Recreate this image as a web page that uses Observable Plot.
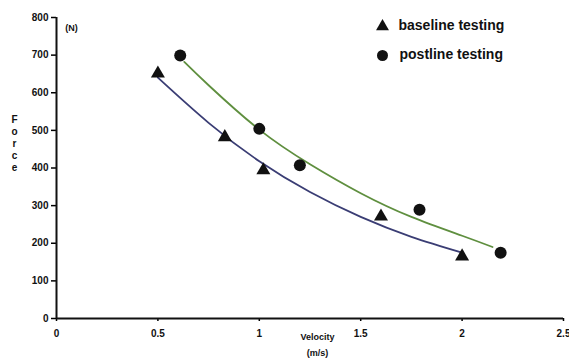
<!DOCTYPE html>
<html>
<head>
<meta charset="utf-8">
<script src="https://cdn.jsdelivr.net/npm/d3@7"></script>
<script src="https://cdn.jsdelivr.net/npm/@observablehq/plot@0.6"></script>
<style>
  html, body { margin: 0; padding: 0; background: #fff; }
  #chart { width: 569px; height: 358px; }
  svg { font-family: "Liberation Sans", Arial, sans-serif; }
</style>
</head>
<body>
<div id="chart"></div>
<script>
// Measured points
const baselineVelocity = [0.5, 0.83, 1.02, 1.6, 2.0];
const baselineForce = [651, 482, 394, 271, 165];
const postlineVelocity = [0.61, 1.0, 1.2, 1.79, 2.19];
const postlineForce = [699, 504, 407, 289, 175];

// Trend curves
const baselineFitVelocity = [0.5, 0.75, 1.0, 1.25, 1.5, 1.75, 2.0];
const baselineFitForce = [640, 520, 418, 336, 270, 217, 175];
const postlineFitVelocity = [0.63, 0.75, 1.0, 1.25, 1.5, 1.75, 2.0, 2.15];
const postlineFitForce = [682, 620, 502, 410, 333, 270, 220, 190];

const xTicks = [0, 0.5, 1, 1.5, 2, 2.5];
const xTickLabels = ["0", "0.5", "1", "1.5", "2", "2.5"];
const yTicks = [0, 100, 200, 300, 400, 500, 600, 700, 800];

const seriesNames = ["baseline testing", "postline testing"];

const zip = (xs, ys) => xs.map((x, i) => ({x, y: ys[i]}));
const basePts = zip(baselineVelocity, baselineForce);
const postPts = zip(postlineVelocity, postlineForce);
const baseFit = zip(baselineFitVelocity, baselineFitForce);
const postFit = zip(postlineFitVelocity, postlineFitForce);

const chart = Plot.plot({
  width: 569,
  height: 358,
  marginLeft: 56,
  marginRight: 6,
  marginTop: 17,
  marginBottom: 40,
  style: {fontFamily: "'Liberation Sans', Arial, sans-serif", background: "#fff", overflow: "visible"},
  x: {domain: [0, 2.5]},
  y: {domain: [0, 800]},
  marks: [
    Plot.axisY({ticks: yTicks, tickSize: 5, tickPadding: 3, label: null,
      fontSize: 10, fontWeight: "bold", strokeWidth: 1.5, fill: "#111"}),
    Plot.axisX({ticks: xTicks, tickFormat: (d) => xTickLabels[xTicks.indexOf(d)], tickSize: 3, tickPadding: 8,
      label: null, fontSize: 10, fontWeight: "bold", strokeWidth: 1.5, fill: "#111"}),
    Plot.ruleX([0], {stroke: "#111", strokeWidth: 2}),
    Plot.ruleY([0], {stroke: "#111", strokeWidth: 2}),
    Plot.line(baseFit, {x: "x", y: "y", curve: "natural", stroke: "#3a3d74", strokeWidth: 1.8}),
    Plot.line(postFit, {x: "x", y: "y", curve: "natural", stroke: "#5f8f3f", strokeWidth: 1.8}),
    Plot.dot(basePts, {x: "x", y: "y", symbol: "triangle", r: 5.2, fill: "#111", stroke: "none"}),
    Plot.dot(postPts, {x: "x", y: "y", symbol: "circle", r: 6, fill: "#111", stroke: "none"}),
    // legend
    Plot.dot([seriesNames[0]], {frameAnchor: "top-left", dx: 326, dy: 9, symbol: "triangle", r: 4.8, fill: "#111", stroke: "none"}),
    Plot.dot([seriesNames[1]], {frameAnchor: "top-left", dx: 326, dy: 38, symbol: "circle", r: 5.5, fill: "#111", stroke: "none"}),
    Plot.text([seriesNames[0]], {text: d => d, frameAnchor: "top-left", dx: 342, dy: 3, textAnchor: "start",
      fontSize: 14, fontWeight: "bold", fill: "#111"}),
    Plot.text([seriesNames[1]], {text: d => d, frameAnchor: "top-left", dx: 343, dy: 32, textAnchor: "start",
      fontSize: 14, fontWeight: "bold", fill: "#111"}),
    // axis titles
    Plot.text(["(N)"], {text: d => d, frameAnchor: "top-left", dx: 15, dy: 7, textAnchor: "middle",
      fontSize: 9, fontWeight: "bold", fill: "#111"}),
    Plot.text(["F\no\nr\nc\ne"], {text: d => d, frameAnchor: "left", dx: -42, dy: -25, textAnchor: "middle",
      fontSize: 10, fontWeight: "bold", lineHeight: 1.2, fill: "#111"}),
    Plot.text(["Velocity\n(m/s)"], {text: d => d, frameAnchor: "bottom-left", dx: 261, dy: 37, textAnchor: "middle",
      fontSize: 9, fontWeight: "bold", lineHeight: 1.7, fill: "#111"})
  ]
});
document.getElementById("chart").appendChild(chart);
</script>
</body>
</html>
